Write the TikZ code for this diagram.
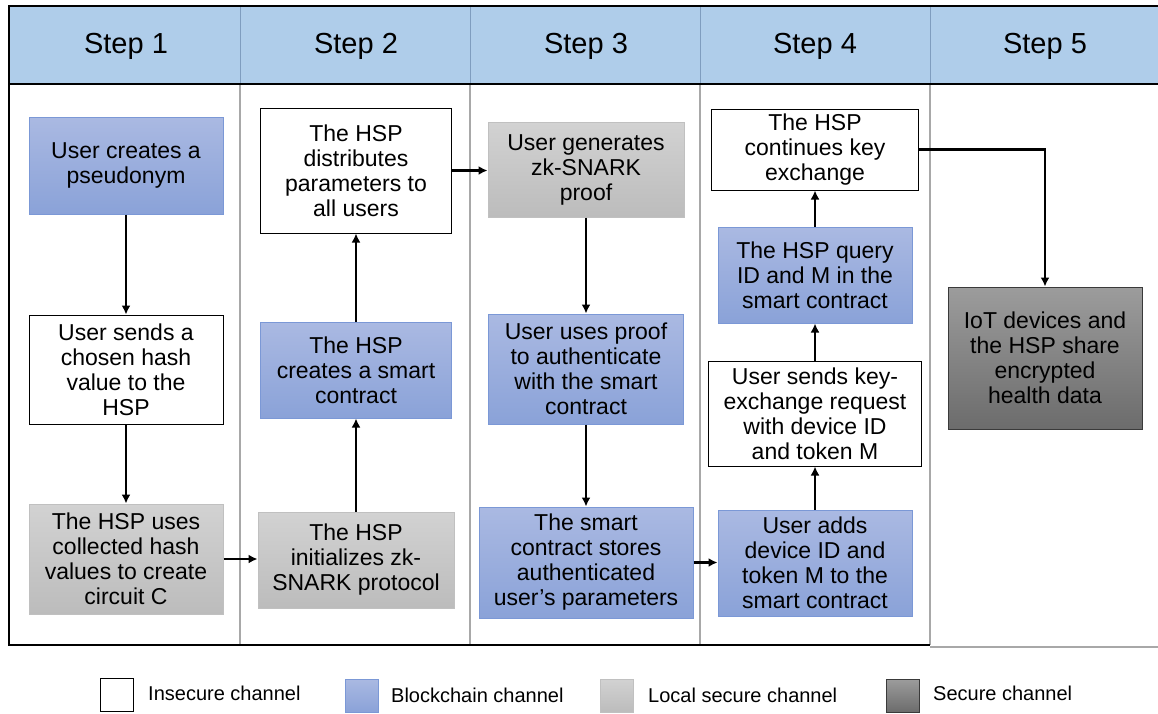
\documentclass[tikz,border=0pt]{standalone}
\usepackage{fontspec}
\setmainfont{Liberation Sans}
\usetikzlibrary{arrows.meta}
\definecolor{hdr}{HTML}{AFCDEA}
\definecolor{hdrline}{HTML}{7F9DBF}
\definecolor{divline}{HTML}{A8A8A8}
\definecolor{bluetop}{HTML}{AAB9E2}
\definecolor{bluebot}{HTML}{8AA2D8}
\definecolor{blueedge}{HTML}{7B98D6}
\definecolor{graytop}{HTML}{D2D2D2}
\definecolor{graybot}{HTML}{BCBCBC}
\definecolor{grayedge}{HTML}{C0C0C0}
\definecolor{darktop}{HTML}{9C9C9C}
\definecolor{darkbot}{HTML}{6C6C6C}
\definecolor{darkedge}{HTML}{3A3A3A}
\begin{document}
\begin{tikzpicture}[x=1pt,y=-1pt,
  bx/.style={rectangle, inner sep=0pt, align=center, line width=1pt,
    font=\fontsize{23}{25}\selectfont},
  ins/.style={bx, draw=black, fill=white},
  blk/.style={bx, draw=blueedge, top color=bluetop, bottom color=bluebot},
  loc/.style={bx, draw=grayedge, top color=graytop, bottom color=graybot},
  sec/.style={bx, draw=darkedge, top color=darktop, bottom color=darkbot},
  hd/.style={font=\fontsize{29}{32}\selectfont, inner sep=0pt},
  lg/.style={font=\fontsize{20}{22}\selectfont, anchor=west, inner sep=0pt},
  lgbox/.style={minimum width=33pt, minimum height=33pt, inner sep=0pt, line width=1pt},
  arr/.style={line width=2.2pt, -{Latex[length=9pt,width=9pt]}}
]
\useasboundingbox (0,0) rectangle (1158,713);

% header
\fill[hdr] (9,6) rectangle (1158,84);
\foreach \xx in {240,470,700,930}{
  \draw[hdrline, line width=1pt] (\xx,6) -- (\xx,84);
  \draw[divline, line width=1.5pt] (\xx,84) -- (\xx,645);
}
\draw[divline, line width=1.5pt] (930,647) -- (1158,647);
\draw[black, line width=1.6pt] (1158,6) -- (9,6) -- (9,645) -- (930,645);
\draw[black, line width=1.6pt] (9,84) -- (1158,84);

\node[hd] (h1) at (126,46) {Step 1};
\node[hd] (h2) at (356,46) {Step 2};
\node[hd] (h3) at (586,46) {Step 3};
\node[hd] (h4) at (815,46) {Step 4};
\node[hd] (h5) at (1045,46) {Step 5};

% step 1
\node[blk, minimum width=194pt, minimum height=97pt] (s1a) at (126,165.5) {User creates a\\pseudonym};
\node[ins, minimum width=194pt, minimum height=109pt] (s1b) at (126,369.5) {User sends a\\chosen hash\\value to the\\HSP};
\node[loc, minimum width=194pt, minimum height=110pt] (s1c) at (126,559) {The HSP uses\\collected hash\\values to create\\circuit C};

% step 2
\node[ins, minimum width=191pt, minimum height=125pt] (s2a) at (356,170.5) {The HSP\\distributes\\parameters to\\all users};
\node[blk, minimum width=191pt, minimum height=96pt] (s2b) at (356,370) {The HSP\\creates a smart\\contract};
\node[loc, minimum width=196pt, minimum height=96pt] (s2c) at (356,560) {The HSP\\initializes zk-\\SNARK protocol};

% step 3
\node[loc, minimum width=196pt, minimum height=95pt] (s3a) at (586,169.5) {User generates\\zk-SNARK\\proof};
\node[blk, minimum width=195pt, minimum height=110pt] (s3b) at (586,369) {User uses proof\\to authenticate\\with the smart\\contract};
\node[blk, minimum width=214pt, minimum height=111pt] (s3c) at (586,562.5) {The smart\\contract stores\\authenticated\\user’s parameters};

% step 4
\node[blk, minimum width=194pt, minimum height=106pt] (s4a) at (815,563) {User adds\\device ID and\\token M to the\\smart contract};
\node[ins, minimum width=213pt, minimum height=105pt] (s4b) at (815,413.5) {User sends key-\\exchange request\\with device ID\\and token M};
\node[blk, minimum width=194pt, minimum height=96pt] (s4c) at (815,275) {The HSP query\\ID and M in the\\smart contract};
\node[ins, minimum width=207pt, minimum height=81pt] (s4d) at (815,149.5) {The HSP\\continues key\\exchange};

% step 5
\node[sec, minimum width=194pt, minimum height=142pt] (s5) at (1045,358) {IoT devices and\\the HSP share\\encrypted\\health data};

% arrows
\draw[arr] (s1a) -- (s1b);
\draw[arr] (s1b) -- (s1c);
\draw[arr] (s1c.east) -- (s1c.east -| s2c.west);
\draw[arr] (s2c) -- (s2b);
\draw[arr] (s2b) -- (s2a);
\draw[arr] (s2a.east) -- (s2a.east -| s3a.west);
\draw[arr] (s3a) -- (s3b);
\draw[arr] (s3b) -- (s3c);
\draw[arr] (s3c.east) -- (s3c.east -| s4a.west);
\draw[arr] (s4a) -- (s4b);
\draw[arr] (s4b) -- (s4c);
\draw[arr] (s4c) -- (s4d);
\draw[arr] (s4d.east) -| (s5.north);

% legend
\node[lgbox, draw=black, fill=white] (l1) at (116.5,695) {};
\node[lg] (t1) at (148,693) {Insecure channel};
\node[lgbox, draw=blueedge, top color=bluetop, bottom color=bluebot] (l2) at (361.5,695.5) {};
\node[lg] (t2) at (391,695) {Blockchain channel};
\node[lgbox, draw=grayedge, top color=graytop, bottom color=graybot] (l3) at (617,695.5) {};
\node[lg] (t3) at (648,695) {Local secure channel};
\node[lgbox, draw=darkedge, top color=darktop, bottom color=darkbot] (l4) at (902.5,695.5) {};
\node[lg] (t4) at (933,693) {Secure channel};
\end{tikzpicture}
\end{document}
